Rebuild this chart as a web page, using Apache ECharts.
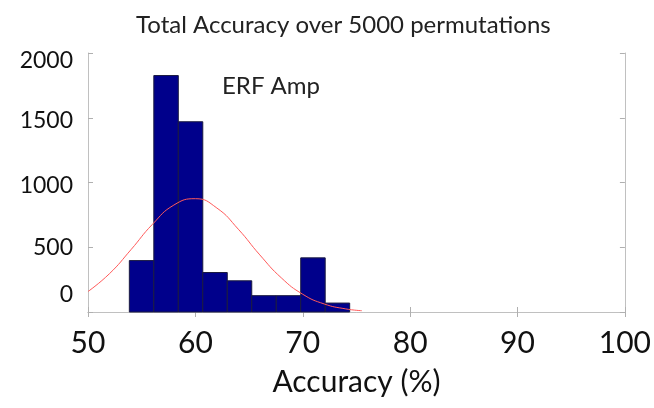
<!DOCTYPE html>
<html>
<head>
<meta charset="utf-8">
<script src="https://cdn.jsdelivr.net/npm/echarts@6/dist/echarts.min.js"></script>
<style>
  html, body { margin: 0; padding: 0; background: #fff; }
  #chart { width: 654px; height: 408px; }
</style>
</head>
<body>
<div id="chart"></div>
<script>
// histogram bins (left edge) and counts
var binWidth = 2.28;
var binStarts = [53.85, 56.13, 58.41, 60.69, 62.97, 65.25, 67.53, 69.81, 72.09];
var binCounts = [397, 1826, 1469, 305, 241, 126, 126, 418, 69];

// red fitted curve
var curveX = [50, 52, 54, 56, 58, 60, 62, 64, 66, 68, 70, 72, 74, 75.5];
var curveY = [158, 296, 481, 677, 826, 875, 803, 639, 441, 264, 137, 62, 24, 10];

var yTicks = [0, 500, 1000, 1500, 2000];
var xTicks = [50, 60, 70, 80, 90, 100];

var font = 'Lato, "Open Sans", sans-serif';
// the y labels in the picture sit a little off their ticks (px, + = down)
var yLabelShift = { 0: -17, 500: 0, 1000: 3, 1500: 3, 2000: 8 };

var chart = echarts.init(document.getElementById('chart'));

var histData = binStarts.map(function (s, i) { return [s, s + binWidth, binCounts[i]]; });
var curveData = curveX.map(function (x, i) { return [x, curveY[i]]; });

var yRich = {};
yTicks.forEach(function (v) {
    var d = yLabelShift[v] || 0;
    yRich['t' + v] = {
        fontFamily: font, fontSize: 23, color: '#111',
        padding: d >= 0 ? [2 * d, 0, 0, 0] : [0, 0, -2 * d, 0]
    };
});

var axisLine = { show: true, lineStyle: { color: '#c0c0c0', width: 1 } };
var axisTick = { show: true, inside: true, length: 5, lineStyle: { color: '#b0b0b0' } };

var option = {
    animation: false,
    title: {
        text: 'Total Accuracy over 5000 permutations',
        left: 131,
        top: 8,
        textStyle: { fontFamily: font, fontSize: 24, fontWeight: 'normal', color: '#222' }
    },
    graphic: [{
        type: 'text',
        left: 222,
        top: 74,
        style: { text: 'ERF Amp', fontFamily: font, fontSize: 24, fill: '#222' }
    }],
    grid: { left: 88, right: 29, top: 53, bottom: 96 },
    xAxis: [{
        type: 'value',
        min: xTicks[0],
        max: xTicks[xTicks.length - 1],
        interval: 10,
        name: 'Accuracy (%)',
        nameLocation: 'middle',
        nameGap: 55,
        nameTextStyle: { fontFamily: font, fontSize: 30, color: '#111' },
        axisLine: axisLine,
        axisTick: axisTick,
        splitLine: { show: false },
        axisLabel: { fontFamily: font, fontSize: 30, color: '#111', margin: 16 }
    }, {
        type: 'value',
        position: 'top',
        min: xTicks[0],
        max: xTicks[xTicks.length - 1],
        interval: 10,
        axisLine: axisLine,
        axisTick: axisTick,
        splitLine: { show: false },
        axisLabel: { show: false }
    }],
    yAxis: [{
        type: 'value',
        min: yTicks[0],
        max: yTicks[yTicks.length - 1],
        interval: 500,
        axisLine: axisLine,
        axisTick: axisTick,
        splitLine: { show: false },
        axisLabel: {
            margin: 15,
            formatter: function (v) { return '{t' + v + '|' + v + '}'; },
            rich: yRich
        }
    }, {
        type: 'value',
        position: 'right',
        min: yTicks[0],
        max: yTicks[yTicks.length - 1],
        interval: 500,
        axisLine: axisLine,
        axisTick: axisTick,
        splitLine: { show: false },
        axisLabel: { show: false }
    }],
    series: [{
        type: 'custom',
        data: histData,
        encode: { x: [0, 1], y: 2 },
        renderItem: function (params, api) {
            var p0 = api.coord([api.value(0), api.value(2)]);
            var p1 = api.coord([api.value(1), 0]);
            return {
                type: 'rect',
                shape: { x: p0[0], y: p0[1], width: p1[0] - p0[0], height: p1[1] - p0[1] },
                style: { fill: '#00008b', stroke: '#1a1a40', lineWidth: 1 }
            };
        },
        z: 2
    }, {
        type: 'line',
        data: curveData,
        smooth: true,
        symbol: 'none',
        lineStyle: { color: '#ff5a5a', width: 1 },
        z: 3
    }]
};

chart.setOption(option);
</script>
</body>
</html>
